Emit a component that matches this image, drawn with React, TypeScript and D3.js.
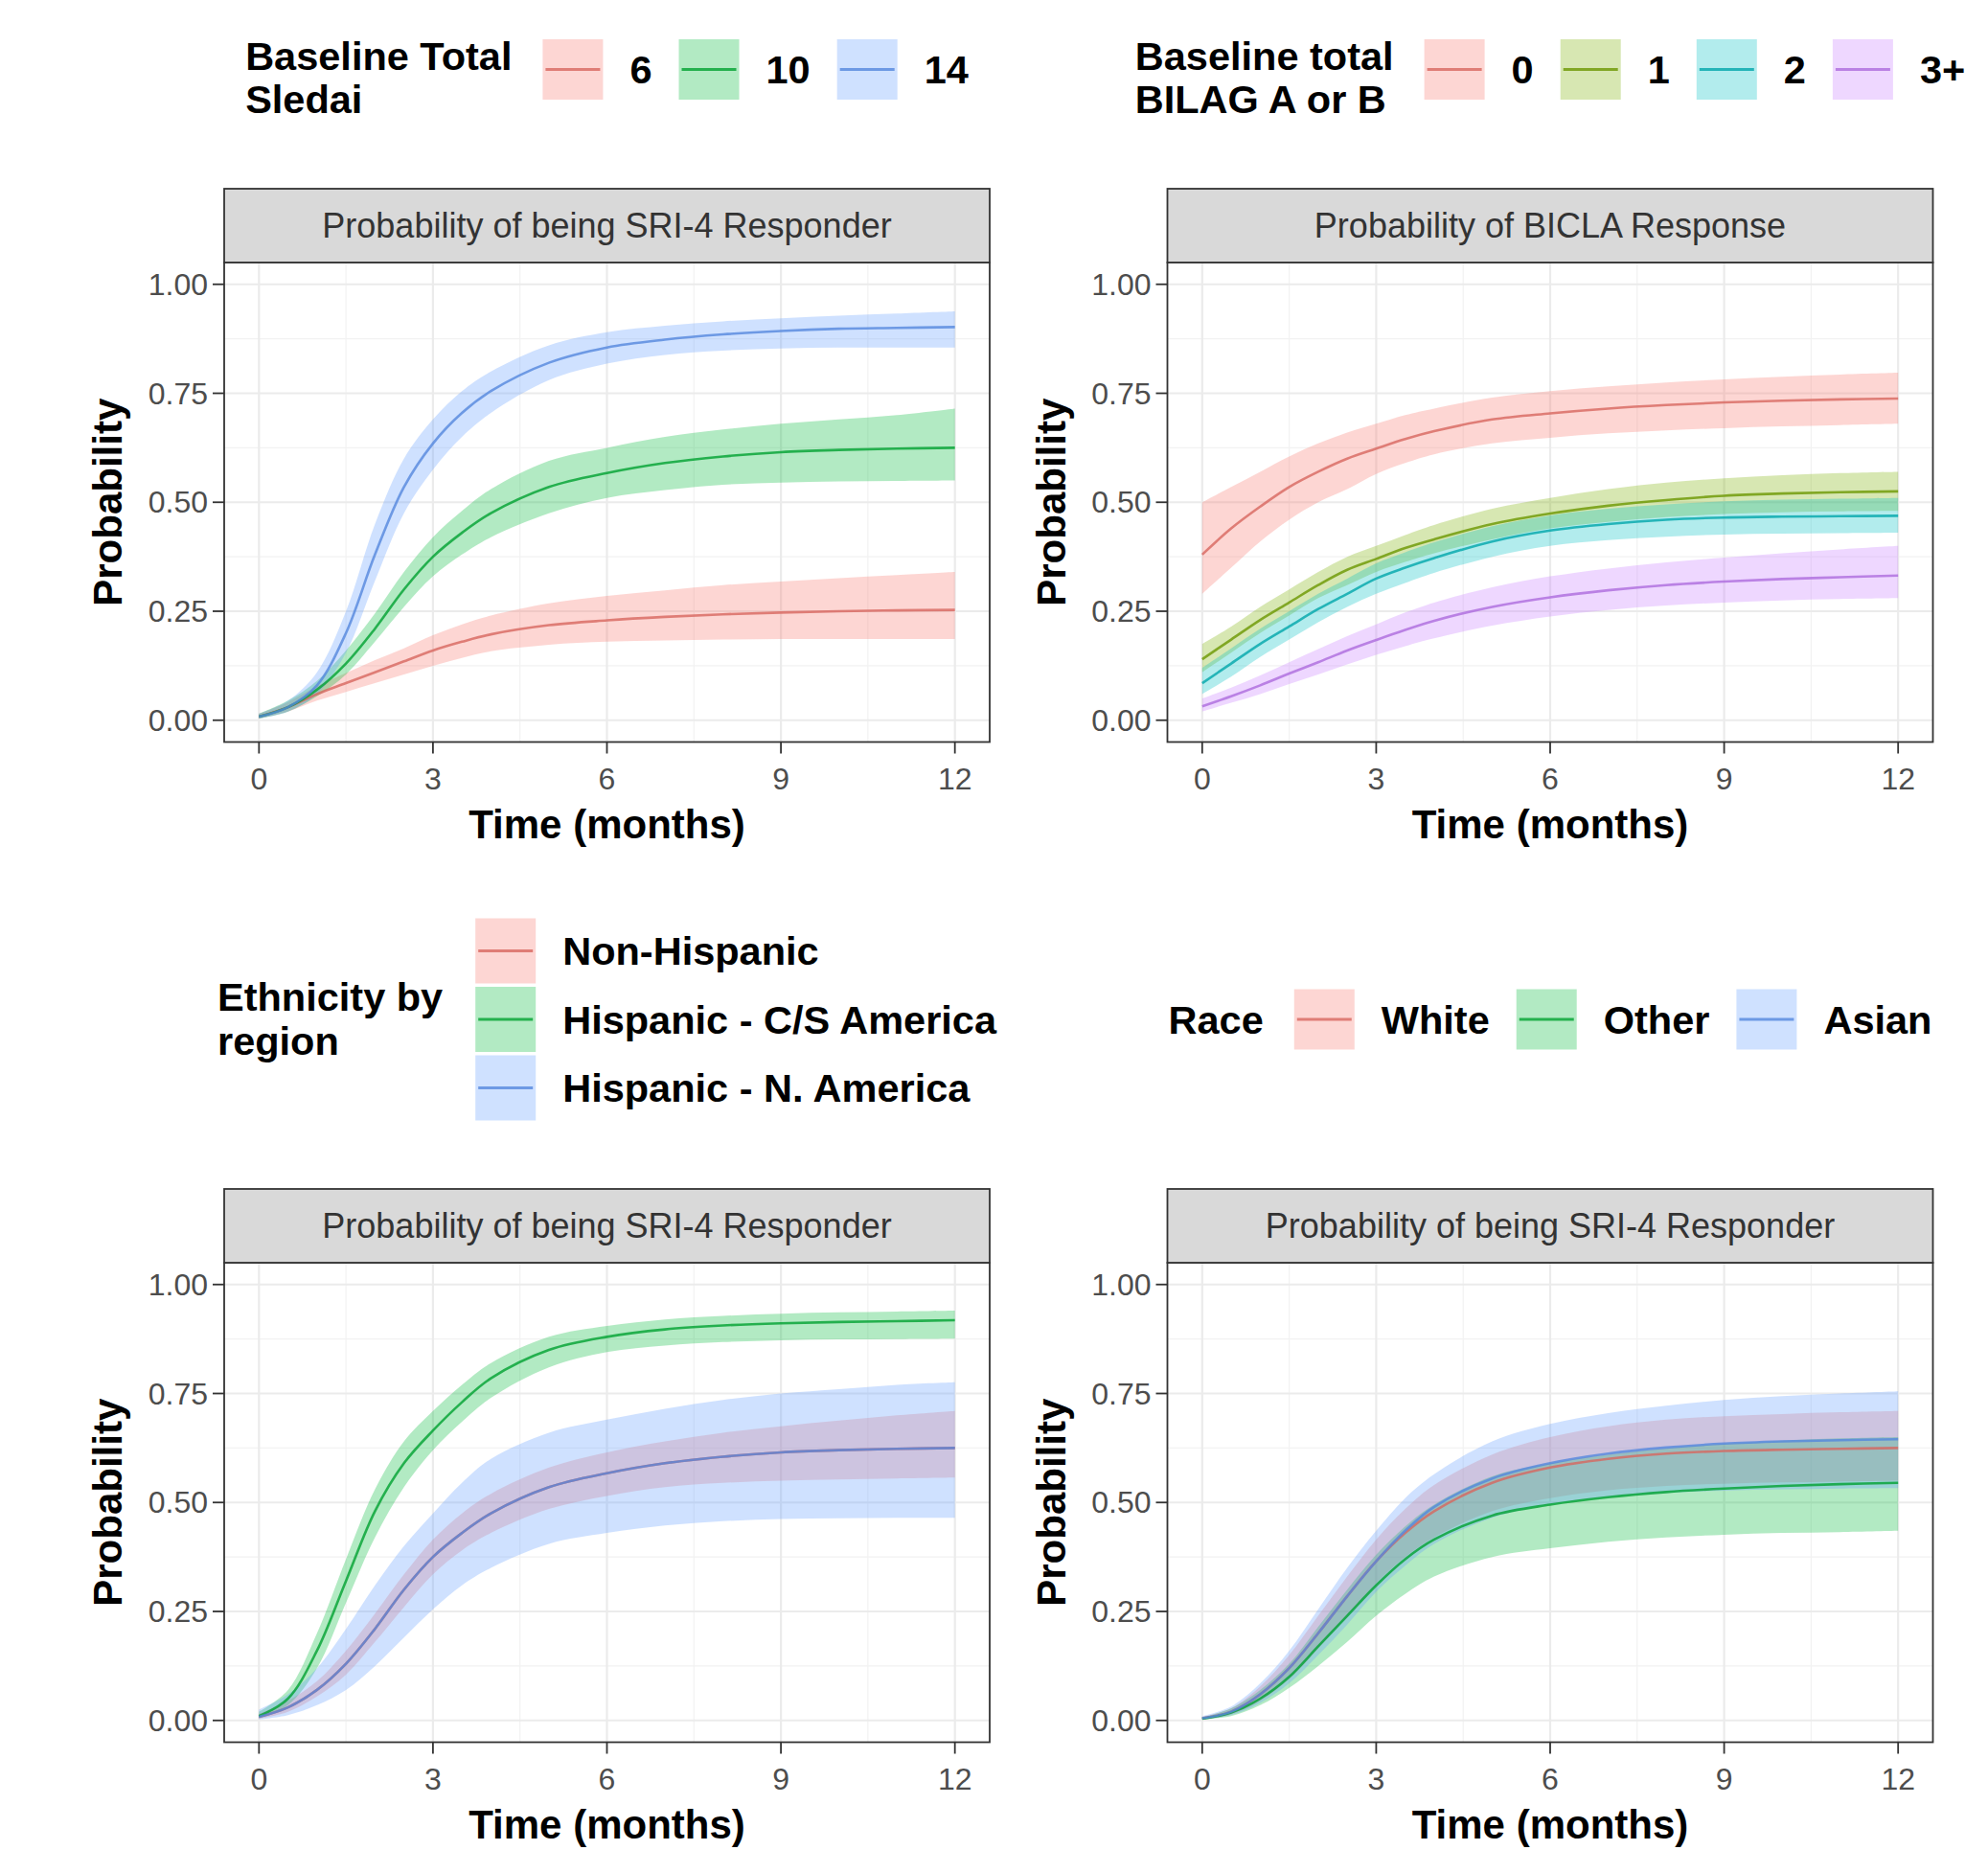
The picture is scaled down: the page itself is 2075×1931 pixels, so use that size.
import React, { useEffect, useRef } from "react";
import * as d3 from "d3";

// time grid (months) shared by every curve
const months = [0, 0.5, 1, 1.5, 2, 2.5, 3, 3.5, 4, 5, 6, 7, 8, 9, 10, 11, 12];
const xTicks = [0, 3, 6, 9, 12];
const xMinor = [1.5, 4.5, 7.5, 10.5];
const yTicks = [0, 0.25, 0.5, 0.75, 1];
const yMinor = [0.125, 0.375, 0.625, 0.875];
const yTickLabels = ["0.00", "0.25", "0.50", "0.75", "1.00"];

const hue3 = ["#F8766D", "#00BA38", "#619CFF"];
const hue4 = ["#F8766D", "#7CAE00", "#00BFC4", "#C77CFF"];

// panel 1: SRI-4 by baseline SLEDAI
const sledaiLevels = ["6", "10", "14"];
const sledai6 = [0.008, 0.03, 0.06, 0.085, 0.11, 0.135, 0.16, 0.18, 0.197, 0.218, 0.229, 0.237, 0.243, 0.247, 0.25, 0.252, 0.253];
const sledai6Lo = [0.004, 0.02, 0.045, 0.065, 0.085, 0.105, 0.125, 0.143, 0.158, 0.173, 0.18, 0.183, 0.185, 0.186, 0.186, 0.186, 0.186];
const sledai6Hi = [0.015, 0.042, 0.078, 0.108, 0.138, 0.165, 0.195, 0.22, 0.24, 0.268, 0.285, 0.298, 0.31, 0.318, 0.326, 0.333, 0.34];
const sledai10 = [0.008, 0.03, 0.07, 0.13, 0.21, 0.3, 0.375, 0.43, 0.475, 0.535, 0.567, 0.59, 0.605, 0.615, 0.62, 0.623, 0.625];
const sledai10Lo = [0.004, 0.02, 0.055, 0.105, 0.18, 0.26, 0.33, 0.38, 0.42, 0.475, 0.51, 0.528, 0.54, 0.545, 0.548, 0.549, 0.55];
const sledai10Hi = [0.015, 0.045, 0.09, 0.16, 0.245, 0.34, 0.42, 0.48, 0.53, 0.595, 0.625, 0.65, 0.667, 0.68, 0.69, 0.7, 0.715];
const sledai14 = [0.008, 0.03, 0.08, 0.2, 0.38, 0.535, 0.635, 0.705, 0.755, 0.82, 0.855, 0.873, 0.885, 0.893, 0.898, 0.9, 0.902];
const sledai14Lo = [0.004, 0.02, 0.06, 0.155, 0.32, 0.475, 0.575, 0.65, 0.705, 0.78, 0.818, 0.838, 0.848, 0.853, 0.855, 0.855, 0.855];
const sledai14Hi = [0.015, 0.045, 0.11, 0.25, 0.45, 0.6, 0.69, 0.755, 0.8, 0.86, 0.89, 0.905, 0.915, 0.922, 0.928, 0.933, 0.938];

// panel 2: BICLA by baseline BILAG A/B count
const bilagLevels = ["0", "1", "2", "3+"];
const bilag0 = [0.38, 0.44, 0.49, 0.535, 0.57, 0.6, 0.623, 0.645, 0.663, 0.69, 0.704, 0.715, 0.723, 0.729, 0.733, 0.736, 0.738];
const bilag0Lo = [0.29, 0.35, 0.41, 0.46, 0.5, 0.53, 0.565, 0.59, 0.61, 0.635, 0.648, 0.658, 0.665, 0.67, 0.674, 0.677, 0.68];
const bilag0Hi = [0.5, 0.535, 0.57, 0.605, 0.635, 0.66, 0.68, 0.7, 0.715, 0.74, 0.755, 0.766, 0.775, 0.782, 0.788, 0.793, 0.797];
const bilag1 = [0.14, 0.185, 0.23, 0.27, 0.31, 0.345, 0.37, 0.395, 0.415, 0.45, 0.474, 0.492, 0.505, 0.515, 0.52, 0.523, 0.525];
const bilag1Lo = [0.11, 0.155, 0.2, 0.24, 0.28, 0.31, 0.34, 0.363, 0.383, 0.415, 0.44, 0.455, 0.466, 0.473, 0.477, 0.479, 0.48];
const bilag1Hi = [0.175, 0.215, 0.26, 0.3, 0.34, 0.375, 0.4, 0.425, 0.448, 0.485, 0.51, 0.53, 0.545, 0.555, 0.562, 0.567, 0.57];
const bilag2 = [0.085, 0.13, 0.175, 0.215, 0.255, 0.29, 0.325, 0.35, 0.372, 0.41, 0.435, 0.45, 0.46, 0.465, 0.467, 0.468, 0.469];
const bilag2Lo = [0.06, 0.1, 0.145, 0.185, 0.225, 0.26, 0.29, 0.315, 0.338, 0.375, 0.4, 0.413, 0.421, 0.426, 0.428, 0.429, 0.43];
const bilag2Hi = [0.12, 0.165, 0.21, 0.25, 0.29, 0.325, 0.36, 0.385, 0.408, 0.445, 0.47, 0.485, 0.495, 0.502, 0.506, 0.508, 0.51];
const bilag3 = [0.032, 0.055, 0.08, 0.107, 0.133, 0.16, 0.184, 0.207, 0.228, 0.26, 0.282, 0.298, 0.31, 0.318, 0.324, 0.328, 0.332];
const bilag3Lo = [0.02, 0.04, 0.06, 0.083, 0.105, 0.128, 0.15, 0.17, 0.188, 0.217, 0.238, 0.253, 0.263, 0.27, 0.275, 0.278, 0.28];
const bilag3Hi = [0.05, 0.075, 0.103, 0.133, 0.163, 0.193, 0.22, 0.247, 0.27, 0.305, 0.33, 0.348, 0.362, 0.373, 0.383, 0.392, 0.4];

// panel 3: SRI-4 by ethnicity / region
const ethLevels = ["Non-Hispanic", "Hispanic - C/S America", "Hispanic - N. America"];
const ethNonHisp = [0.008, 0.03, 0.07, 0.13, 0.21, 0.3, 0.375, 0.43, 0.475, 0.535, 0.567, 0.59, 0.605, 0.615, 0.62, 0.623, 0.625];
const ethNonHispLo = [0.004, 0.02, 0.055, 0.105, 0.18, 0.26, 0.335, 0.39, 0.43, 0.485, 0.515, 0.535, 0.545, 0.55, 0.553, 0.555, 0.557];
const ethNonHispHi = [0.015, 0.045, 0.09, 0.16, 0.245, 0.335, 0.415, 0.475, 0.52, 0.58, 0.615, 0.64, 0.66, 0.675, 0.688, 0.7, 0.71];
const ethCSAm = [0.01, 0.05, 0.16, 0.32, 0.48, 0.59, 0.665, 0.73, 0.785, 0.85, 0.88, 0.897, 0.906, 0.911, 0.914, 0.916, 0.918];
const ethCSAmLo = [0.005, 0.035, 0.12, 0.27, 0.42, 0.535, 0.62, 0.685, 0.74, 0.81, 0.845, 0.86, 0.868, 0.872, 0.874, 0.875, 0.876];
const ethCSAmHi = [0.02, 0.07, 0.2, 0.37, 0.53, 0.64, 0.71, 0.77, 0.82, 0.88, 0.905, 0.92, 0.928, 0.933, 0.936, 0.938, 0.94];
const ethNAm = [0.008, 0.03, 0.07, 0.13, 0.21, 0.3, 0.375, 0.43, 0.475, 0.535, 0.567, 0.59, 0.605, 0.615, 0.62, 0.623, 0.625];
const ethNAmLo = [0.002, 0.012, 0.035, 0.07, 0.125, 0.19, 0.255, 0.31, 0.35, 0.405, 0.43, 0.447, 0.457, 0.462, 0.464, 0.465, 0.465];
const ethNAmHi = [0.025, 0.06, 0.12, 0.21, 0.31, 0.4, 0.475, 0.545, 0.6, 0.66, 0.69, 0.715, 0.735, 0.75, 0.76, 0.77, 0.776];

// panel 4: SRI-4 by race
const raceLevels = ["White", "Other", "Asian"];
const raceWhite = [0.005, 0.02, 0.06, 0.12, 0.2, 0.285, 0.365, 0.43, 0.48, 0.545, 0.58, 0.6, 0.612, 0.618, 0.621, 0.623, 0.625];
const raceWhiteLo = [0.003, 0.014, 0.045, 0.095, 0.165, 0.24, 0.315, 0.375, 0.42, 0.48, 0.51, 0.528, 0.538, 0.543, 0.546, 0.548, 0.55];
const raceWhiteHi = [0.008, 0.028, 0.078, 0.15, 0.24, 0.33, 0.415, 0.485, 0.54, 0.61, 0.65, 0.675, 0.69, 0.698, 0.703, 0.707, 0.71];
const raceOther = [0.004, 0.018, 0.05, 0.1, 0.17, 0.24, 0.31, 0.37, 0.415, 0.47, 0.495, 0.512, 0.524, 0.532, 0.538, 0.542, 0.545];
const raceOtherLo = [0.002, 0.01, 0.035, 0.075, 0.125, 0.18, 0.24, 0.29, 0.33, 0.375, 0.395, 0.41, 0.42, 0.426, 0.43, 0.432, 0.435];
const raceOtherHi = [0.007, 0.028, 0.07, 0.13, 0.215, 0.3, 0.38, 0.445, 0.495, 0.56, 0.59, 0.61, 0.625, 0.635, 0.642, 0.647, 0.65];
const raceAsian = [0.005, 0.02, 0.06, 0.12, 0.2, 0.285, 0.365, 0.435, 0.49, 0.555, 0.59, 0.612, 0.626, 0.635, 0.64, 0.643, 0.645];
const raceAsianLo = [0.002, 0.012, 0.04, 0.085, 0.15, 0.22, 0.295, 0.355, 0.405, 0.465, 0.495, 0.512, 0.522, 0.527, 0.53, 0.532, 0.533];
const raceAsianHi = [0.01, 0.032, 0.085, 0.16, 0.255, 0.35, 0.435, 0.51, 0.565, 0.64, 0.68, 0.705, 0.722, 0.735, 0.744, 0.75, 0.755];

const W = 2075;
const H = 1931;
const PANEL_W = 799;
const PLOT_H = 500.5;
const STRIP_H = 77;
const colLeft = [234, 1218.5];
const rowTop = [274, 1318];
const legendCY = [72.5, 1064];
const FONT = "'Liberation Sans', Arial, Helvetica, sans-serif";

const panels = [
  {
    col: 0, row: 0, strip: "Probability of being SRI-4 Responder",
    legendTitle: ["Baseline Total", "Sledai"], labels: sledaiLevels, vertical: false, colors: hue3,
    series: [[sledai6, sledai6Lo, sledai6Hi], [sledai10, sledai10Lo, sledai10Hi], [sledai14, sledai14Lo, sledai14Hi]],
  },
  {
    col: 1, row: 0, strip: "Probability of BICLA Response",
    legendTitle: ["Baseline total", "BILAG A or B"], labels: bilagLevels, vertical: false, colors: hue4,
    series: [[bilag0, bilag0Lo, bilag0Hi], [bilag1, bilag1Lo, bilag1Hi], [bilag2, bilag2Lo, bilag2Hi], [bilag3, bilag3Lo, bilag3Hi]],
  },
  {
    col: 0, row: 1, strip: "Probability of being SRI-4 Responder",
    legendTitle: ["Ethnicity by", "region"], labels: ethLevels, vertical: true, colors: hue3,
    series: [[ethNonHisp, ethNonHispLo, ethNonHispHi], [ethCSAm, ethCSAmLo, ethCSAmHi], [ethNAm, ethNAmLo, ethNAmHi]],
  },
  {
    col: 1, row: 1, strip: "Probability of being SRI-4 Responder",
    legendTitle: ["Race"], labels: raceLevels, vertical: false, colors: hue3,
    series: [[raceWhite, raceWhiteLo, raceWhiteHi], [raceOther, raceOtherLo, raceOtherHi], [raceAsian, raceAsianLo, raceAsianHi]],
  },
];

const lineColor = (c: string) => d3.color(c)!.darker(0.4).formatHex();

const App = () => {
  const ref = useRef<SVGSVGElement>(null);

  useEffect(() => {
    const svg = d3.select(ref.current);
    svg.selectAll("*").remove();
    svg.append("rect").attr("width", W).attr("height", H).attr("fill", "#fff");

    panels.forEach((p) => {
      const left = colLeft[p.col];
      const top = rowTop[p.row];
      const x = d3.scaleLinear().domain([-0.6, 12.6]).range([left, left + PANEL_W]);
      const y = d3.scaleLinear().domain([-0.05, 1.05]).range([top + PLOT_H, top]);
      const g = svg.append("g");

      g.append("rect").attr("x", left).attr("y", top).attr("width", PANEL_W).attr("height", PLOT_H).attr("fill", "#fff");

      // grid
      g.selectAll(".vmin").data(xMinor).join("line")
        .attr("x1", (d) => x(d)).attr("x2", (d) => x(d)).attr("y1", top).attr("y2", top + PLOT_H)
        .attr("stroke", "#F2F2F2").attr("stroke-width", 1.2);
      g.selectAll(".hmin").data(yMinor).join("line")
        .attr("y1", (d) => y(d)).attr("y2", (d) => y(d)).attr("x1", left).attr("x2", left + PANEL_W)
        .attr("stroke", "#F2F2F2").attr("stroke-width", 1.2);
      g.selectAll(".vmaj").data(xTicks).join("line")
        .attr("x1", (d) => x(d)).attr("x2", (d) => x(d)).attr("y1", top).attr("y2", top + PLOT_H)
        .attr("stroke", "#EBEBEB").attr("stroke-width", 2.2);
      g.selectAll(".hmaj").data(yTicks).join("line")
        .attr("y1", (d) => y(d)).attr("y2", (d) => y(d)).attr("x1", left).attr("x2", left + PANEL_W)
        .attr("stroke", "#EBEBEB").attr("stroke-width", 2.2);

      const curve = d3.curveCatmullRom.alpha(0.5);
      const area = d3.area<number>()
        .x((_, i) => x(months[i]))
        .y0((d) => y(d))
        .curve(curve);
      const line = d3.line<number>()
        .x((_, i) => x(months[i]))
        .y((d) => y(d))
        .curve(curve);

      p.series.forEach(([, lo, hi], i) => {
        g.append("path")
          .attr("d", area.y1((_, j) => y(hi[j]))(lo))
          .attr("fill", p.colors[i]).attr("fill-opacity", 0.3);
      });
      p.series.forEach(([mid], i) => {
        g.append("path").attr("d", line(mid))
          .attr("fill", "none").attr("stroke", lineColor(p.colors[i]))
          .attr("stroke-opacity", 0.8).attr("stroke-width", 2.6);
      });

      g.append("rect").attr("x", left).attr("y", top).attr("width", PANEL_W).attr("height", PLOT_H)
        .attr("fill", "none").attr("stroke", "#333").attr("stroke-width", 1.8);

      // strip
      g.append("rect").attr("x", left).attr("y", top - STRIP_H).attr("width", PANEL_W).attr("height", STRIP_H)
        .attr("fill", "#D9D9D9").attr("stroke", "#333").attr("stroke-width", 1.8);
      g.append("text").attr("x", left + PANEL_W / 2).attr("y", top - STRIP_H / 2 + 12.5)
        .attr("text-anchor", "middle").attr("font-family", FONT).attr("font-size", 36)
        .attr("fill", "#333").text(p.strip);

      // axes
      const bottom = top + PLOT_H;
      g.selectAll(".xt").data(xTicks).join("line")
        .attr("x1", (d) => x(d)).attr("x2", (d) => x(d)).attr("y1", bottom).attr("y2", bottom + 12)
        .attr("stroke", "#333").attr("stroke-width", 1.8);
      g.selectAll(".xl").data(xTicks).join("text")
        .attr("x", (d) => x(d)).attr("y", bottom + 49.5).attr("text-anchor", "middle")
        .attr("font-family", FONT).attr("font-size", 32).attr("fill", "#4D4D4D").text((d) => String(d));
      g.selectAll(".yt").data(yTicks).join("line")
        .attr("y1", (d) => y(d)).attr("y2", (d) => y(d)).attr("x1", left - 12).attr("x2", left)
        .attr("stroke", "#333").attr("stroke-width", 1.8);
      g.selectAll(".yl").data(yTicks).join("text")
        .attr("x", left - 17).attr("y", (d) => y(d) + 11).attr("text-anchor", "end")
        .attr("font-family", FONT).attr("font-size", 32).attr("fill", "#4D4D4D")
        .text((_, i) => yTickLabels[i]);

      g.append("text").attr("x", left + PANEL_W / 2).attr("y", bottom + 100).attr("text-anchor", "middle")
        .attr("font-family", FONT).attr("font-weight", "bold").attr("font-size", 42).text("Time (months)");
      const cy = top + PLOT_H / 2;
      g.append("text").attr("transform", `translate(${left - 107},${cy}) rotate(-90)`)
        .attr("text-anchor", "middle").attr("font-family", FONT).attr("font-weight", "bold")
        .attr("font-size", 42).text("Probability");

      // legend
      const lg = svg.append("g");
      const fs = 41.5;
      const measure = (s: string) => {
        const t = lg.append("text").attr("font-family", FONT).attr("font-weight", "bold").attr("font-size", fs).text(s);
        const w = (t.node() as SVGTextElement).getComputedTextLength();
        t.remove();
        return w;
      };
      const titleW = d3.max(p.legendTitle, measure) as number;
      const labelW = p.labels.map(measure);
      const center = left + PANEL_W / 2;
      const lcy = legendCY[p.row];
      const key = 63;
      const addText = (s: string, tx: number, ty: number) =>
        lg.append("text").attr("x", tx).attr("y", ty).attr("font-family", FONT).attr("font-weight", "bold")
          .attr("font-size", fs).attr("fill", "#000").text(s);
      const addKey = (kx: number, ky: number, kh: number, i: number) => {
        lg.append("rect").attr("x", kx).attr("y", ky).attr("width", key).attr("height", kh)
          .attr("fill", p.colors[i]).attr("fill-opacity", 0.3);
        lg.append("line").attr("x1", kx + 3).attr("x2", kx + key - 3).attr("y1", ky + kh / 2).attr("y2", ky + kh / 2)
          .attr("stroke", lineColor(p.colors[i])).attr("stroke-opacity", 0.8).attr("stroke-width", 3);
      };

      if (p.vertical) {
        const step = 71.5;
        const total = titleW + 34 + key + 28 + (d3.max(labelW) as number);
        const x0 = center - total / 2;
        addText(p.legendTitle[0], x0, lcy - 9);
        addText(p.legendTitle[1], x0, lcy + 37);
        const kx = x0 + titleW + 34;
        p.labels.forEach((lab, i) => {
          const kc = lcy + (i - 1) * step;
          addKey(kx, kc - 34, 68, i);
          addText(lab, kx + key + 28, kc + 14.5);
        });
      } else {
        const total = titleW + 32 + d3.sum(labelW) + p.labels.length * (key + 28) + (p.labels.length - 1) * 28;
        const x0 = center - total / 2;
        const keyTop = lcy - key / 2;
        if (p.legendTitle.length === 2) {
          addText(p.legendTitle[0], x0, keyTop + 32);
          addText(p.legendTitle[1], x0, keyTop + 77);
        } else {
          addText(p.legendTitle[0], x0, lcy + 14.5);
        }
        let cx = x0 + titleW + 32;
        p.labels.forEach((lab, i) => {
          addKey(cx, keyTop, key, i);
          addText(lab, cx + key + 28, lcy + 14.5);
          cx += key + 28 + labelW[i] + 28;
        });
      }
    });
  }, []);

  return (
    <svg ref={ref} width={W} height={H} style={{ position: "absolute", left: 0, top: 0 }} />
  );
};

export default App;
